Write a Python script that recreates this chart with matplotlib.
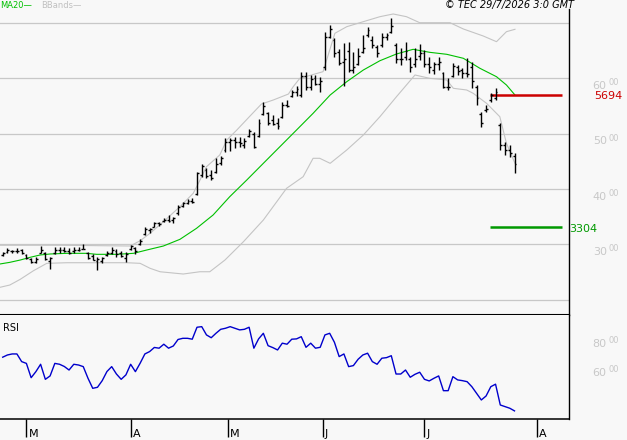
import numpy as np
import matplotlib
matplotlib.use('Agg')
from matplotlib import pyplot as plt

# daily bars, oldest first
highs = [2865,2927,2896,2927,2909,2824,2748,2764,2968,2860,
         2775,2945,2945,2945,2927,2956,2956,3004,2865,2824,
         2775,2764,2884,2956,2909,2884,2865,2986,2945,3094,
         3311,3293,3408,3408,3468,3529,3499,3709,3769,3812,
         3830,4312,4451,4373,4342,4559,4595,4915,4915,4944,
         4933,4915,5078,5035,5259,5577,5397,5337,5277,5577,
         5608,5789,5861,6120,6120,6060,6060,6029,6843,6964,
         6723,6524,6633,6662,6481,6543,6783,6933,6765,6602,
         6814,6825,7085,6633,6543,6662,6391,6543,6620,6512,
         6391,6300,6391,6120,6000,6271,6241,6181,6361,6300,
         5879,5397,5517,5728,5819,5187,4854,4794,4644]
lows = [2787,2847,2836,2836,2824,2727,2655,2655,2836,2715,
        2547,2824,2836,2860,2824,2847,2878,2909,2727,2715,
        2534,2655,2787,2824,2775,2764,2684,2896,2824,2986,
        3166,3203,3306,3324,3408,3408,3390,3529,3679,3727,
        3739,3890,4221,4192,4161,4283,4433,4673,4691,4734,
        4764,4734,4944,4734,4933,5337,5156,5156,5078,5277,
        5487,5657,5680,5657,5789,5789,5879,5758,6150,6723,
        6391,6241,5861,6120,6101,6241,6451,6752,6543,6391,
        6572,6693,6814,6271,6241,6331,6120,6211,6331,6211,
        6090,6078,6150,5819,5789,6029,6060,6000,6029,5819,
        5517,5125,5397,5577,5608,4704,4613,4583,4283]
opens = [2800,2860,2880,2870,2890,2810,2740,2680,2850,2840,
         2700,2850,2900,2890,2880,2870,2900,2920,2850,2780,
         2700,2700,2800,2840,2880,2840,2760,2910,2930,3000,
         3180,3250,3320,3380,3420,3440,3430,3560,3700,3740,
         3780,3900,4260,4350,4250,4300,4460,4700,4850,4880,
         4850,4800,4960,5000,4950,5350,5380,5250,5200,5300,
         5520,5680,5750,5700,6050,5850,6000,5900,6200,6750,
         6700,6480,6300,6500,6150,6260,6480,6780,6700,6560,
         6600,6750,6830,6600,6350,6380,6350,6250,6400,6450,
         6250,6150,6250,6100,5850,6050,6200,6150,6100,6200,
         5850,5350,5420,5600,5650,5150,4800,4700,4600]
closes = [2840,2900,2880,2885,2840,2760,2680,2730,2900,2740,
          2760,2900,2890,2880,2850,2900,2905,2910,2760,2720,
          2730,2750,2850,2900,2830,2790,2820,2960,2870,3060,
          3270,3280,3380,3360,3440,3420,3470,3680,3740,3790,
          3760,4280,4420,4230,4200,4450,4560,4850,4880,4850,
          4830,4860,5050,4760,5200,5500,5200,5180,5130,5520,
          5500,5760,5800,6050,5850,5980,5900,5950,6750,6900,
          6450,6280,6350,6150,6200,6400,6550,6880,6600,6450,
          6750,6780,6950,6350,6350,6500,6200,6350,6450,6250,
          6200,6250,6300,5850,5840,6220,6130,6100,6080,5950,
          5650,5200,5450,5700,5750,4800,4700,4650,4450]
rsi = [65.6,67.1,67.8,67.8,62.6,61.4,51.7,55.8,60.8,50.6,
       52.9,61.4,60.8,59.3,56.9,60.8,60.3,59.2,51.3,44.5,
       45.2,49.7,55.9,59.2,54.2,50.6,53.6,60.8,55.8,61.5,
       67.8,69.4,72.2,71.7,74.4,71.7,73.2,77.6,78.4,78.4,
       77.8,85.9,86.3,80.7,78.8,81.8,84.5,85.2,86.3,85.2,
       84.1,84.5,85.9,71.7,78.0,81.8,73.4,72.1,70.5,75.1,
       74.4,77.8,78.0,79.5,72.3,75.1,71.7,72.3,80.7,81.8,
       75.7,66.0,67.8,59.2,59.9,64.2,67.1,68.3,62.6,60.8,
       64.9,65.3,66.6,54.2,54.2,56.9,52.0,54.0,55.4,50.6,
       49.5,51.3,52.9,42.9,42.9,52.4,50.2,49.7,49.0,45.6,
       41.1,36.6,39.3,45.6,47.3,33.2,32.1,31.0,29.2]

# MA20 and bollinger bands (bar index, price)
ma_x = [-0.6,1.5,3.7,5.8,7.9,10.0,13.5,17.7,19.8,24.1,27.6,30.4,33.9,37.4,40.9,44.4,47.9,
        51.5,55.0,57.8,62.0,65.5,69.1,72.6,76.1,79.6,83.1,86.6,90.1,93.7,97.2,100.7,104.2,106.3,108.1]
ma_y = [2643,2673,2715,2764,2806,2824,2836,2836,2818,2818,2836,2896,2968,3089,3288,3529,3859,
        4161,4463,4704,5065,5367,5698,5939,6150,6318,6440,6524,6470,6434,6362,6181,6029,5879,5698]
up_x = [-0.6,12.1,26.9,29.0,31.1,33.9,37.4,40.2,41.3,43.0,45.8,47.3,49.4,52.2,54.6,57.1,60.3,
        61.3,62.7,67.6,70.1,72.6,76.1,79.6,82.4,85.2,88.0,94.4,97.2,101.4,104.2,106.3,108.1]
up_y = [2982,2982,2968,3064,3198,3407,3679,3921,4102,4402,4613,4885,5065,5319,5535,5608,5716,
        5848,6000,6120,6814,6933,7024,7114,7163,7114,7005,7005,6892,6765,6662,6843,6886]
lo_x = [-0.6,1.5,3.7,6.5,9.3,13.5,20.5,26.2,29.0,31.1,33.2,38.1,41.6,43.7,46.9,50.8,55.0,
        59.9,63.4,65.5,66.9,69.1,72.6,76.1,79.6,83.1,87.0,90.1,93.7,95.1,97.9,99.3,102.1,104.9,106.3,108.1]
lo_y = [2221,2263,2366,2522,2655,2666,2666,2666,2655,2565,2503,2462,2503,2503,2715,3046,3438,
        4011,4221,4554,4554,4463,4704,4975,5306,5668,6060,6000,5970,5819,5789,5728,5548,5306,4825,4463]

month_pos = [5, 27, 47.5, 67.5, 89, 112.7]
month_lab = ['M', 'A', 'M', 'J', 'J', 'A']
price_levels = [3000, 4000, 5000, 6000]
rsi_levels = [60, 80]
resist = 5694
support = 3304

bg = '#f8f8f8'
grey = '#c8c8c8'
fig = plt.figure(figsize=(6.27, 4.40), dpi=100, facecolor=bg)
ax = fig.add_axes([0, 1-315/440, 569/627, 306/440], facecolor=bg)
ax2 = fig.add_axes([0, 1-419/440, 569/627, 104/440], facecolor=bg)

x = np.arange(len(closes))
for v in range(2000, 8000, 1000):
    ax.axhline(v, color=grey, lw=0.9, zorder=0)
ax.plot(up_x, up_y, color='#c4c4c4', lw=0.8, zorder=1)
ax.plot(lo_x, lo_y, color='#c4c4c4', lw=0.8, zorder=1)
ax.plot(ma_x, ma_y, color='#00c000', lw=0.8, zorder=2)
ax.vlines(x, lows, highs, color='k', lw=1.0, zorder=3)
ax.hlines(opens, x-0.4, x, color='k', lw=1.0, zorder=3)
ax.hlines(closes, x, x+0.4, color='k', lw=1.0, zorder=3)

ax.hlines(resist, 102.8, 118, color='#cc0000', lw=1.8)
ax.hlines(support, 102.8, 118, color='#009900', lw=1.8)
ax.annotate(str(resist), xy=(1, resist), xycoords=('axes fraction', 'data'), xytext=(25, -4),
            textcoords='offset pixels', ha='left', va='baseline', fontsize=8, color='#cc0000', annotation_clip=False)
ax.annotate(str(support), xy=(1, support), xycoords=('axes fraction', 'data'), xytext=(0.5, -4.3),
            textcoords='offset pixels', ha='left', va='baseline', fontsize=8, color='#009900', annotation_clip=False)

ax.set_xlim(-0.57, 119.5)
ax.set_ylim(1721, 7253)
ax2.set_xlim(-0.57, 119.5)
ax2.set_ylim(23.7, 94.2)

def right_label(a, v, big, small):
    a.annotate(big, xy=(1, v), xycoords=('axes fraction', 'data'), xytext=(37.7, -10.7),
               textcoords='offset pixels', ha='right', va='baseline', fontsize=8, color=grey, annotation_clip=False)
    a.annotate(small, xy=(1, v), xycoords=('axes fraction', 'data'), xytext=(39.3, -7),
               textcoords='offset pixels', ha='left', va='baseline', fontsize=6, color=grey, annotation_clip=False)

for v in price_levels:
    right_label(ax, v, str(v//100), '00')
for v in rsi_levels:
    right_label(ax2, v, str(v), '00')

ax2.plot(x, rsi, color='#0000cc', lw=1.0)

for a in [ax, ax2]:
    a.spines['top'].set_visible(False)
    a.spines['left'].set_visible(False)
    a.spines['right'].set_linewidth(1.0)
    a.set_yticks([])
ax.spines['bottom'].set_linewidth(1.5)
ax2.spines['bottom'].set_linewidth(1.1)
ax.set_xticks([])
ax2.set_xticks(month_pos)
ax2.set_xticklabels([])
ax2.tick_params(axis='x', length=13, width=1.0, direction='out', color='k')
for p, m in zip(month_pos, month_lab):
    ax2.annotate(m, xy=(p, 0), xycoords=('data', 'axes fraction'), xytext=(2, -18.3),
                 textcoords='offset pixels', ha='left', va='baseline', fontsize=8, annotation_clip=False)

fig.text(2.7/627, 1-331/440, 'RSI', fontsize=7, va='baseline')
fig.text(0, 1-7.5/440, 'MA20\u2014', fontsize=6, color='#00c000', va='baseline')
fig.text(41/627, 1-7.5/440, 'BBands\u2014', fontsize=6, color='#c0c0c0', va='baseline')
fig.text(574/627, 1-8/440, '\u00a9 TEC 29/7/2026 3:0 GMT', fontsize=7, style='italic', ha='right', va='baseline')

plt.savefig('out.png', dpi=100, facecolor=bg)
